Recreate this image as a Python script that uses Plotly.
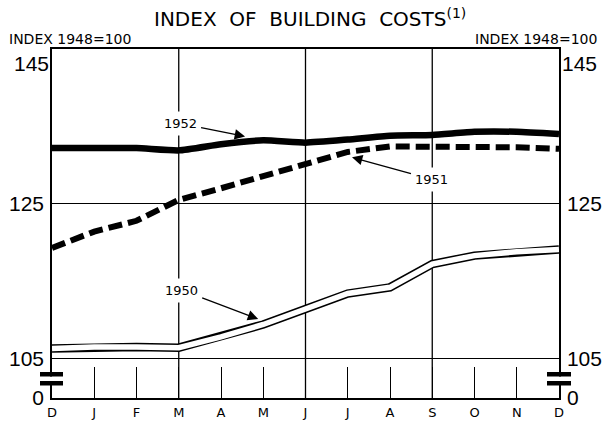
import plotly.graph_objects as go

# ---------------- data ----------------
months = ["D", "J", "F", "M", "A", "M", "J", "J", "A", "S", "O", "N", "D"]
idx_1950 = [106.3, 106.5, 106.5, 106.4, 107.8, 109.4, 111.4, 113.4, 114.2, 117.2, 118.3, 118.8, 119.1]
idx_1951 = [119.3, 121.4, 122.8, 125.5, 127.0, 128.5, 130.0, 131.7, 132.4, 132.4, 132.4, 132.3, 132.1]
idx_1952 = [132.2, 132.2, 132.2, 131.9, 132.7, 133.2, 132.9, 133.3, 133.8, 133.9, 134.3, 134.3, 134.0]
y_tick_vals = [99.9, 105, 125]
y_tick_labels = ["0", "105", "125"]
y_top_val = [145]
y_top_label = ["145"]
quarter_months = [3, 6, 9]

x = list(range(len(months)))

NUM_FONT = "Liberation Sans, Arial, sans-serif"
TXT_FONT = "DejaVu Sans, Liberation Sans, sans-serif"

fig = go.Figure()

# 1951: heavy dashed
fig.add_trace(go.Scatter(x=x, y=idx_1951, mode="lines",
                         line=dict(color="black", width=6, dash="14px,6px"), showlegend=False))
# 1952: heavy solid (right axis, same scale)
fig.add_trace(go.Scatter(x=x, y=idx_1952, mode="lines", yaxis="y2",
                         line=dict(color="black", width=6.5, shape="spline", smoothing=0.5),
                         showlegend=False))
# 1950: double (outlined) line
fig.add_trace(go.Scatter(x=x, y=idx_1950, mode="lines", yaxis="y3",
                         line=dict(color="black", width=8.5), hoverinfo="skip", showlegend=False))
fig.add_trace(go.Scatter(x=x, y=idx_1950, mode="lines", yaxis="y4",
                         line=dict(color="white", width=5.5), showlegend=False))

yrange = [y_tick_vals[0], y_top_val[0]]
tickfont = dict(family=NUM_FONT, size=21, color="black")
yax = dict(range=yrange, tickmode="array", tickvals=y_tick_vals, ticktext=y_tick_labels,
           showgrid=True, gridcolor="black", gridwidth=1.2, zeroline=False,
           showline=True, linecolor="black", linewidth=1.5, ticks="",
           tickfont=tickfont, ticklabelstandoff=2, automargin=False)
ytop = dict(range=yrange, tickmode="array", tickvals=y_top_val, ticktext=y_top_label,
            showgrid=False, zeroline=False, showline=False, ticks="",
            ticklabelposition="outside bottom", ticklabelstandoff=2,
            tickfont=tickfont, automargin=False, overlaying="y")

fig.update_layout(
    width=602, height=424,
    margin=dict(l=52, r=43, t=49, b=26),
    paper_bgcolor="white", plot_bgcolor="white",
    xaxis=dict(range=[0, len(months) - 1], tickmode="array", tickvals=x, ticktext=months,
               showgrid=False, zeroline=False, showline=True, mirror=True,
               linecolor="black", linewidth=1.5,
               ticks="inside", ticklen=31, tickwidth=1.3, tickcolor="black",
               ticklabelstandoff=2, automargin=False,
               tickfont=dict(family=TXT_FONT, size=13, color="black")),
    yaxis=dict(side="left", **yax),
    yaxis2=dict(side="right", overlaying="y", **yax),
    yaxis3=dict(side="left", **ytop),
    yaxis4=dict(side="right", **ytop),
)

# vertical quarter grid lines
shapes = []
for m in quarter_months:
    shapes.append(dict(type="line", xref="x", yref="paper", x0=m, x1=m, y0=0, y1=1,
                       line=dict(color="black", width=1.3), layer="below"))

# axis-break symbols (decoration)
H = 349.0
def yp(px):
    return (398 - px) / H
def xp(px):
    return (px - 52) / 507.0

for (a, b, axis_px) in [(40, 63, 52), (547, 571, 559)]:
    shapes.append(dict(type="rect", xref="paper", yref="paper",
                       x0=xp(axis_px - 3), x1=xp(axis_px + 3), y0=yp(381), y1=yp(376.5),
                       fillcolor="white", line=dict(width=0), layer="above"))
    for top, bot in [(372, 376.5), (381, 385.5)]:
        shapes.append(dict(type="rect", xref="paper", yref="paper",
                           x0=xp(a), x1=xp(b), y0=yp(bot), y1=yp(top),
                           fillcolor="black", line=dict(width=0), layer="above"))

fig.update_layout(shapes=shapes)

NB = "\u00a0\u00a0"
ann = [
    dict(text="INDEX" + NB + "OF" + NB + "BUILDING" + NB + "COSTS<sup>(1)</sup>",
         xref="paper", yref="paper",
         x=xp(310), y=yp(18), showarrow=False, xanchor="center", yanchor="middle",
         font=dict(family=TXT_FONT, size=20, color="black")),
    dict(text="INDEX 1948=100", xref="paper", yref="paper", x=xp(7), y=yp(39),
         showarrow=False, xanchor="left", yanchor="middle",
         font=dict(family=TXT_FONT, size=14, color="black")),
    dict(text="INDEX 1948=100", xref="paper", yref="paper", x=xp(599), y=yp(39),
         showarrow=False, xanchor="right", yanchor="middle",
         font=dict(family=TXT_FONT, size=14, color="black")),
    # series labels with arrows
    dict(text="1952", x=4.57, y=133.7, ax=-65, ay=-13, xref="x", yref="y",
         showarrow=True, arrowhead=2, arrowsize=1.6, arrowwidth=1.3, arrowcolor="black",
         bgcolor="white", borderpad=4,
         font=dict(family=TXT_FONT, size=13, color="black")),
    dict(text="1951", x=7.1, y=131.0, ax=80, ay=22, xref="x", yref="y",
         showarrow=True, arrowhead=2, arrowsize=1.6, arrowwidth=1.3, arrowcolor="black",
         bgcolor="white", borderpad=4,
         font=dict(family=TXT_FONT, size=13, color="black")),
    dict(text="1950", x=4.88, y=110.1, ax=-77, ay=-29, xref="x", yref="y",
         showarrow=True, arrowhead=2, arrowsize=1.6, arrowwidth=1.3, arrowcolor="black",
         bgcolor="white", borderpad=4,
         font=dict(family=TXT_FONT, size=13, color="black")),
]
fig.update_layout(annotations=ann)

fig.write_html("out.html", config={"displayModeBar": False},
               post_script="document.body.style.margin='0px';")
